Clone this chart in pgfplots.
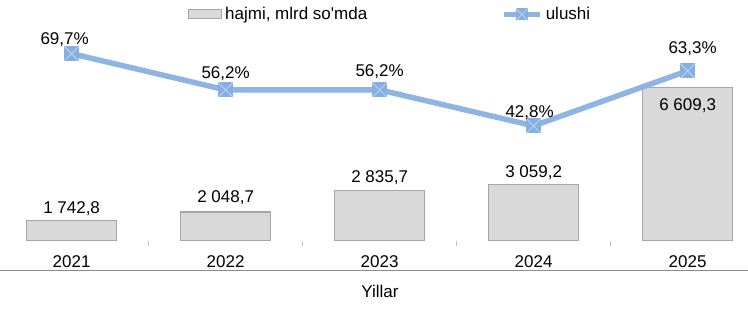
\documentclass[border=0pt]{standalone}
\usepackage{fontspec}
\setmainfont{Liberation Sans}[Ligatures=TeXOff]
\usepackage{pgfplots}
\pgfplotsset{compat=1.18}
\definecolor{barfill}{HTML}{D9D9D9}
\definecolor{bardraw}{HTML}{A6A6A6}
\definecolor{lineblue}{HTML}{8EB4E3}
\definecolor{markblue}{HTML}{86AFE1}
\definecolor{crossblue}{HTML}{B9D1EE}
\definecolor{axisgray}{HTML}{8C8C8C}
\definecolor{tickgray}{HTML}{BFBFBF}
\newcommand\F{\fontsize{17pt}{20pt}\selectfont}
\pgfdeclareplotmark{sqx}{%
  \pgfpathrectangle{\pgfqpoint{-\pgfplotmarksize}{-\pgfplotmarksize}}{\pgfqpoint{2\pgfplotmarksize}{2\pgfplotmarksize}}%
  \pgfusepathqfill
  \pgfpathmoveto{\pgfqpoint{-\pgfplotmarksize}{-\pgfplotmarksize}}%
  \pgfpathlineto{\pgfqpoint{\pgfplotmarksize}{\pgfplotmarksize}}%
  \pgfpathmoveto{\pgfqpoint{-\pgfplotmarksize}{\pgfplotmarksize}}%
  \pgfpathlineto{\pgfqpoint{\pgfplotmarksize}{-\pgfplotmarksize}}%
  \pgfusepathqstroke}
\begin{document}
\begin{tikzpicture}[font=\F]
\path[use as bounding box] (0,0) rectangle (748pt,318pt);
% bars: hajmi
\begin{axis}[
  at={(0pt,77.3pt)}, anchor=south west,
  scale only axis, width=748pt, height=218.7pt,
  xmin=-0.465, xmax=4.392, ymin=1000, ymax=9000,
  clip=false,
  axis line style={draw=none},
  ytick=\empty,
  xtick={0,1,2,3,4},
  xticklabels={2021,2022,2023,2024,2025},
  xtick pos=left,
  minor xtick={0.5,1.5,2.5,3.5},
  tick align=outside,
  major tick length=0pt,
  minor tick length=5pt,
  minor tick style={draw=tickgray, line width=1.2pt},
  xticklabel style={anchor=base, yshift=-27.3pt, inner sep=0pt, font=\F, text=black},
  xlabel={Yillar},
  xlabel style={at={(rel axis cs:0.508,0)}, anchor=center, yshift=-50.3pt, inner sep=0pt, font=\F},
]
\addplot[ybar, bar width=90pt, bar shift=0pt, fill=barfill, draw=bardraw, line width=1.1pt,
  point meta=y,
  visualization depends on={\thisrow{dy} \as \dy},
  nodes near coords={\pgfmathprintnumber[fixed, fixed zerofill, precision=1, use comma, 1000 sep={\ }, assume math mode=true]{\pgfplotspointmeta}},
  nodes near coords style={anchor=base, yshift=\dy pt, inner sep=0pt, text=black, font=\F},
] table[x=x, y=y] {
x y dy
0 1742.8 6.4
1 2048.7 9.9
2 2835.7 7.9
3 3059.2 7.2
4 6609.3 -23.3
};
\end{axis}
% line: ulushi
\begin{axis}[
  at={(0pt,77.3pt)}, anchor=south west,
  scale only axis, width=748pt, height=218.7pt,
  xmin=-0.465, xmax=4.392, ymin=0, ymax=81.5,
  clip=false,
  hide axis,
  legend columns=2,
  legend style={at={(0.2513,1.0343)}, anchor=west, draw=none, fill=none, inner sep=0pt,
    font=\F, nodes={inner sep=0pt},
    /tikz/every odd column/.style={column sep=3pt},
    /tikz/every even column/.style={column sep=134pt}},
  legend cell align=left,
]
\addlegendimage{legend image code/.code={\draw[fill=barfill, draw=bardraw, line width=1pt] (0pt,-4.5pt) rectangle (33pt,4.5pt);}}
\addlegendentry{hajmi, mlrd so'mda}
\addplot[color=lineblue, line width=5.5pt, line join=round,
  mark=sqx, mark size=7.5pt, mark options={fill=markblue, draw=crossblue, line width=1pt},
  point meta=y,
  visualization depends on={\thisrow{dx} \as \dx},
  visualization depends on={\thisrow{dy} \as \dy},
  nodes near coords={\pgfmathprintnumber[fixed, fixed zerofill, precision=1, use comma, assume math mode=true]{\pgfplotspointmeta}\%},
  nodes near coords style={anchor=base, xshift=\dx pt, yshift=\dy pt, inner sep=0pt, text=black, font=\F},
  legend image code/.code={\draw[lineblue, line width=5.5pt, mark=sqx, mark size=6pt, mark options={fill=markblue, draw=crossblue, line width=0.8pt}, mark repeat=2, mark phase=2] plot coordinates {(0pt,0pt) (18pt,0pt) (36pt,0pt)};},
] table[x=x, y=y] {
x y dx dy
0 69.7 -7 9.1
1 56.2 0 11.2
2 56.2 0 12.9
3 42.8 -4 8.4
4 63.3 5 17.1
};
\addlegendentry{ulushi}
\end{axis}
\draw[axisgray, line width=1.5pt] (0pt,47.5pt) -- (748pt,47.5pt);
\end{tikzpicture}
\end{document}
